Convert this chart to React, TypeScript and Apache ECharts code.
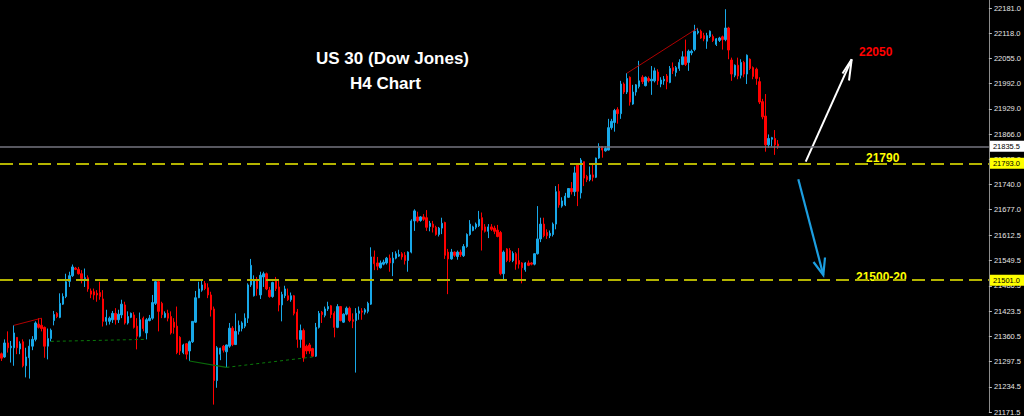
import React, { useEffect, useRef } from "react";
import * as echarts from "echarts";

// ---- Data (H4 candles, US 30) ----
const opens = [
  21317, 21309, 21344, 21332, 21332, 21358, 21329, 21347, 21287, 21307,
  21336, 21353, 21391, 21388, 21383, 21336, 21355, 21400, 21418, 21408,
  21441, 21460, 21498, 21512, 21531, 21528, 21517, 21505, 21507, 21474,
  21472, 21468, 21470, 21454, 21398, 21398, 21402, 21418, 21402, 21414,
  21439, 21394, 21408, 21414, 21386, 21361, 21406, 21369, 21400, 21406,
  21443, 21497, 21443, 21408, 21418, 21410, 21396, 21386, 21358, 21320,
  21342, 21324, 21347, 21396, 21457, 21476, 21493, 21482, 21464, 21429,
  21250, 21316, 21336, 21322, 21336, 21381, 21340, 21373, 21380, 21386,
  21406, 21489, 21462, 21503, 21464, 21509, 21517, 21476, 21460, 21503,
  21484, 21439, 21462, 21462, 21452, 21462, 21421, 21353, 21375, 21336,
  21339, 21330, 21311, 21383, 21421, 21413, 21429, 21437, 21418, 21383,
  21435, 21396, 21416, 21431, 21402, 21400, 21418, 21424, 21421, 21423,
  21441, 21559, 21544, 21532, 21541, 21544, 21556, 21544, 21556, 21561,
  21567, 21563, 21550, 21571, 21649, 21659, 21650, 21659, 21657, 21635,
  21641, 21633, 21615, 21631, 21645, 21571, 21554, 21571, 21560, 21571,
  21562, 21585, 21615, 21625, 21633, 21637, 21657, 21634, 21623, 21634,
  21631, 21626, 21620, 21517, 21579, 21575, 21550, 21567, 21550, 21544,
  21527, 21544, 21544, 21541, 21567, 21604, 21641, 21620, 21612, 21615,
  21641, 21723, 21686, 21689, 21708, 21730, 21722, 21789, 21719, 21797,
  21760, 21752, 21764, 21758, 21806, 21835, 21824, 21826, 21882, 21895,
  21927, 21917, 21991, 21971, 22008, 21941, 21971, 21985, 22008, 21987,
  22005, 21999, 21999, 22021, 21991, 21999, 22011, 21995, 22032, 22020,
  22030, 22040, 22059, 22045, 22069, 22077, 22119, 22123, 22112, 22098,
  22110, 22110, 22090, 22100, 22109, 22102, 22131, 22051, 22013, 22038,
  22013, 22045, 22016, 22053, 22032, 22028, 21997, 21947, 21911, 21839,
  21853, 21855, 21841,
];
const closes = [
  21306, 21344, 21332, 21336, 21369, 21332, 21342, 21287, 21309, 21336,
  21353, 21394, 21383, 21380, 21336, 21355, 21376, 21415, 21410, 21443,
  21460, 21497, 21512, 21534, 21528, 21517, 21505, 21507, 21479, 21466,
  21464, 21464, 21460, 21398, 21408, 21406, 21418, 21402, 21416, 21441,
  21394, 21410, 21418, 21383, 21361, 21402, 21380, 21402, 21406, 21445,
  21497, 21423, 21415, 21418, 21406, 21369, 21383, 21320, 21324, 21339,
  21316, 21347, 21398, 21457, 21479, 21489, 21480, 21464, 21427, 21250,
  21332, 21331, 21326, 21339, 21381, 21340, 21373, 21388, 21394, 21406,
  21489, 21538, 21501, 21480, 21513, 21517, 21479, 21460, 21495, 21480,
  21439, 21465, 21479, 21452, 21462, 21418, 21353, 21375, 21307, 21324,
  21324, 21311, 21383, 21418, 21415, 21429, 21435, 21415, 21383, 21435,
  21400, 21416, 21431, 21400, 21398, 21418, 21424, 21421, 21427, 21443,
  21559, 21542, 21536, 21544, 21546, 21556, 21544, 21556, 21567, 21565,
  21559, 21550, 21571, 21649, 21674, 21649, 21659, 21653, 21633, 21643,
  21633, 21615, 21631, 21643, 21563, 21554, 21571, 21563, 21571, 21565,
  21585, 21615, 21641, 21634, 21641, 21653, 21626, 21623, 21634, 21628,
  21623, 21610, 21517, 21571, 21550, 21550, 21568, 21541, 21541, 21532,
  21544, 21538, 21541, 21567, 21604, 21641, 21612, 21612, 21618, 21641,
  21722, 21689, 21699, 21711, 21730, 21722, 21769, 21723, 21801, 21756,
  21752, 21764, 21758, 21806, 21835, 21826, 21830, 21882, 21898, 21925,
  21917, 21991, 21971, 22005, 21946, 21971, 21989, 21999, 21997, 22008,
  21999, 22003, 22024, 21999, 22001, 22003, 21997, 22030, 22024, 22032,
  22045, 22059, 22040, 22073, 22073, 22123, 22123, 22106, 22104, 22112,
  22123, 22100, 22104, 22106, 22102, 22131, 22076, 22016, 22038, 22011,
  22045, 22016, 22063, 22030, 22010, 22005, 21946, 21909, 21839, 21855,
  21857, 21839, 21836,
];
const lows = [
  21299, 21307, 21320, 21295, 21287, 21316, 21316, 21283, 21258, 21255,
  21326, 21348, 21380, 21373, 21307, 21303, 21348, 21388, 21406, 21406,
  21439, 21456, 21484, 21509, 21526, 21515, 21493, 21484, 21472, 21456,
  21452, 21447, 21452, 21385, 21388, 21390, 21394, 21390, 21394, 21406,
  21390, 21390, 21406, 21380, 21328, 21358, 21373, 21353, 21398, 21402,
  21439, 21373, 21406, 21406, 21398, 21365, 21367, 21316, 21314, 21316,
  21303, 21299, 21344, 21394, 21456, 21472, 21476, 21456, 21410, 21190,
  21232, 21301, 21320, 21283, 21332, 21336, 21339, 21365, 21373, 21381,
  21394, 21484, 21460, 21462, 21454, 21484, 21476, 21457, 21457, 21474,
  21423, 21398, 21456, 21449, 21447, 21413, 21332, 21332, 21297, 21316,
  21317, 21309, 21309, 21380, 21394, 21408, 21424, 21406, 21358, 21381,
  21398, 21394, 21413, 21396, 21381, 21270, 21402, 21402, 21415, 21418,
  21439, 21526, 21526, 21530, 21538, 21540, 21522, 21511, 21553, 21559,
  21552, 21540, 21522, 21568, 21624, 21645, 21647, 21649, 21624, 21623,
  21620, 21612, 21610, 21616, 21554, 21466, 21552, 21559, 21552, 21559,
  21559, 21582, 21612, 21623, 21628, 21634, 21575, 21620, 21606, 21624,
  21616, 21608, 21513, 21499, 21546, 21546, 21546, 21527, 21530, 21493,
  21522, 21536, 21538, 21538, 21565, 21596, 21608, 21604, 21606, 21610,
  21628, 21682, 21682, 21686, 21707, 21715, 21711, 21686, 21705, 21736,
  21746, 21748, 21748, 21756, 21804, 21807, 21822, 21825, 21877, 21872,
  21892, 21904, 21966, 21966, 21937, 21939, 21962, 21980, 21991, 21985,
  21995, 21964, 21995, 21989, 21983, 21989, 21978, 21993, 22016, 22010,
  22024, 22038, 22036, 22024, 22063, 22073, 22115, 22104, 22098, 22079,
  22106, 22096, 22086, 22096, 22077, 22098, 22053, 21999, 22008, 22003,
  22005, 22008, 21991, 22026, 22003, 21989, 21941, 21903, 21822, 21832,
  21835, 21814, 21829,
];
const highs = [
  21320, 21353, 21373, 21349, 21388, 21358, 21348, 21353, 21332, 21353,
  21361, 21398, 21406, 21406, 21385, 21380, 21380, 21424, 21421, 21468,
  21468, 21517, 21522, 21540, 21534, 21534, 21526, 21530, 21513, 21480,
  21480, 21476, 21497, 21476, 21427, 21410, 21424, 21431, 21427, 21452,
  21447, 21423, 21420, 21421, 21406, 21420, 21410, 21406, 21414, 21464,
  21499, 21499, 21447, 21423, 21427, 21423, 21406, 21435, 21361, 21342,
  21344, 21350, 21398, 21474, 21497, 21499, 21499, 21493, 21472, 21435,
  21336, 21332, 21339, 21340, 21394, 21386, 21418, 21400, 21398, 21418,
  21493, 21554, 21513, 21509, 21522, 21522, 21520, 21484, 21497, 21509,
  21503, 21472, 21487, 21480, 21470, 21464, 21429, 21390, 21380, 21340,
  21344, 21332, 21394, 21424, 21424, 21435, 21447, 21439, 21423, 21441,
  21435, 21418, 21435, 21435, 21418, 21431, 21435, 21431, 21431, 21447,
  21583, 21575, 21559, 21550, 21552, 21559, 21565, 21571, 21573, 21577,
  21571, 21571, 21573, 21653, 21678, 21672, 21661, 21666, 21676, 21649,
  21649, 21637, 21634, 21657, 21647, 21579, 21579, 21573, 21575, 21577,
  21591, 21618, 21651, 21637, 21645, 21674, 21670, 21641, 21641, 21641,
  21637, 21639, 21624, 21575, 21581, 21581, 21573, 21571, 21581, 21546,
  21546, 21550, 21546, 21568, 21686, 21657, 21657, 21628, 21625, 21645,
  21736, 21741, 21708, 21719, 21731, 21746, 21785, 21789, 21806, 21797,
  21764, 21785, 21793, 21807, 21843, 21835, 21835, 21904, 21904, 21929,
  21933, 21999, 21995, 22018, 22010, 21989, 21991, 22049, 22013, 22010,
  22010, 22036, 22032, 22028, 22008, 22011, 22016, 22036, 22045, 22036,
  22053, 22073, 22102, 22077, 22077, 22139, 22131, 22127, 22119, 22119,
  22125, 22115, 22106, 22109, 22112, 22178, 22134, 22057, 22040, 22057,
  22053, 22049, 22065, 22055, 22035, 22032, 22008, 21954, 21966, 21865,
  21859, 21876, 21851,
];

// chart slots (candles plus empty space on the right)
const SLOT_COUNT = 321;
const categories = Array.from({ length: SLOT_COUNT }, (_, i) => String(i));

// price-axis tick labels
const tickValues = [
  21171.5, 21234.5, 21297.5, 21360.5, 21423.5, 21486.5, 21549.5, 21612.5,
  21677.0, 21740.0, 21803.0, 21866.0, 21929.0, 21992.0, 22055.0, 22118.0, 22181.0,
];

// horizontal levels
const bidPrice = 21835.5;
const supportLevels = [21793.0, 21501.0];

// trend lines: [startIndex, startPrice, endIndex, endPrice]
const redTrendLines = [
  [4, 21388, 13, 21406],
  [203, 22018, 226, 22131],
];
const greenDashedLines = [
  [16, 21348, 47, 21353],
  [73, 21283, 101, 21309],
];
const greenSolidLines = [[61, 21299, 73, 21283]];

const BLUE = "#18a8e8";
const RED = "#ff0000";
const YELLOW_LINE = "#b4b400";

export default function App() {
  const ref = useRef<HTMLDivElement>(null);

  useEffect(() => {
    document.body.style.margin = "0";
    document.body.style.background = "#000";
    const chart = echarts.init(ref.current!, null, { renderer: "svg" });

    const candles = opens.map((o, i) => [o, closes[i], lows[i], highs[i]]);

    const axisBoxLabel = (bg: string, text: string) => ({
      show: true,
      position: "end" as const,
      distance: 1,
      formatter: text,
      backgroundColor: bg,
      color: "#000",
      fontSize: 7.5,
      fontFamily: "Liberation Sans",
      padding: [2, 5, 1, 3],
    });

    const markLineData: any[] = [
      {
        yAxis: bidPrice,
        lineStyle: { color: "#74747f", width: 1.5, type: "solid" },
        label: axisBoxLabel("#ffffff", bidPrice.toFixed(1)),
      },
      ...supportLevels.map((v) => ({
        yAxis: v,
        lineStyle: { color: YELLOW_LINE, width: 1.8, type: [13, 6] },
        label: axisBoxLabel("#ffff00", v.toFixed(1)),
      })),
      ...redTrendLines.map((l) => [
        { coord: [l[0], l[1]], lineStyle: { color: "#b00000", width: 1, type: "solid" } },
        { coord: [l[2], l[3]] },
      ]),
      ...greenDashedLines.map((l) => [
        { coord: [l[0], l[1]], lineStyle: { color: "#0a7a0a", width: 1, type: [3, 3] } },
        { coord: [l[2], l[3]] },
      ]),
      ...greenSolidLines.map((l) => [
        { coord: [l[0], l[1]], lineStyle: { color: "#0a6a0a", width: 1.2, type: "solid" } },
        { coord: [l[2], l[3]] },
      ]),
    ];

    const option: any = {
      animation: false,
      backgroundColor: "#000",
      grid: { left: 0, right: 33, top: 0, bottom: 0, containLabel: false },
      xAxis: {
        type: "category",
        data: categories,
        boundaryGap: true,
        show: false,
      },
      yAxis: {
        type: "value",
        position: "right",
        min: 21171.5,
        max: 22201,
        splitLine: { show: false },
        axisLine: { show: true, lineStyle: { color: "#8c8c8c", width: 1 } },
        axisTick: {
          show: true,
          length: 3,
          lineStyle: { color: "#bbbbbb" },
          customValues: tickValues,
        },
        axisLabel: {
          customValues: tickValues,
          formatter: (v: number) => v.toFixed(1),
          margin: 5,
          color: "#e6e6e6",
          fontSize: 7.5,
          fontFamily: "Liberation Sans",
        },
      },
      series: [
        {
          type: "candlestick",
          data: candles,
          barWidth: 1.9,
          itemStyle: {
            color: BLUE,
            color0: RED,
            borderColor: BLUE,
            borderColor0: RED,
            borderWidth: 1,
          },
          markLine: {
            silent: true,
            symbol: ["none", "none"],
            label: { show: false },
            data: markLineData,
          },
        },
      ],
      graphic: [
        {
          type: "text",
          style: {
            text: "US 30 (Dow Jones)",
            x: 316,
            y: 58,
            fill: "#ffffff",
            font: 'bold 17px "Liberation Sans"',
            textAlign: "left",
            textVerticalAlign: "middle",
          },
        },
        {
          type: "text",
          style: {
            text: "H4 Chart",
            x: 350,
            y: 83.5,
            fill: "#ffffff",
            font: 'bold 17px "Liberation Sans"',
            textAlign: "left",
            textVerticalAlign: "middle",
          },
        },
        {
          type: "text",
          style: {
            text: "22050",
            x: 859,
            y: 51.5,
            fill: "#ff0000",
            font: 'bold 12px "Liberation Sans"',
            textAlign: "left",
            textVerticalAlign: "middle",
          },
        },
        {
          type: "text",
          style: {
            text: "21790",
            x: 866,
            y: 157.5,
            fill: "#ffff00",
            font: 'bold 12px "Liberation Sans"',
            textAlign: "left",
            textVerticalAlign: "middle",
          },
        },
        {
          type: "text",
          style: {
            text: "21500-20",
            x: 856,
            y: 277,
            fill: "#ffff00",
            font: 'bold 12px "Liberation Sans"',
            textAlign: "left",
            textVerticalAlign: "middle",
          },
        },
        {
          type: "polyline",
          shape: { points: [[805.7, 161.7], [851.7, 59.3]] },
          style: { stroke: "#ffffff", lineWidth: 2, fill: null },
        },
        {
          type: "polyline",
          shape: { points: [[842.5, 73.5], [851.7, 59.3], [849, 80.5]] },
          style: { stroke: "#ffffff", lineWidth: 2, fill: null },
        },
        {
          type: "polyline",
          shape: { points: [[798.3, 179.3], [823.3, 275]] },
          style: { stroke: "#1c9ee0", lineWidth: 2.2, fill: null },
        },
        {
          type: "polyline",
          shape: { points: [[813.5, 262], [823.3, 275], [825, 257.5]] },
          style: { stroke: "#1c9ee0", lineWidth: 2.2, fill: null },
        },
      ],
    };

    chart.setOption(option);
    return () => chart.dispose();
  }, []);

  return <div ref={ref} style={{ width: 1024, height: 416, background: "#000" }} />;
}
